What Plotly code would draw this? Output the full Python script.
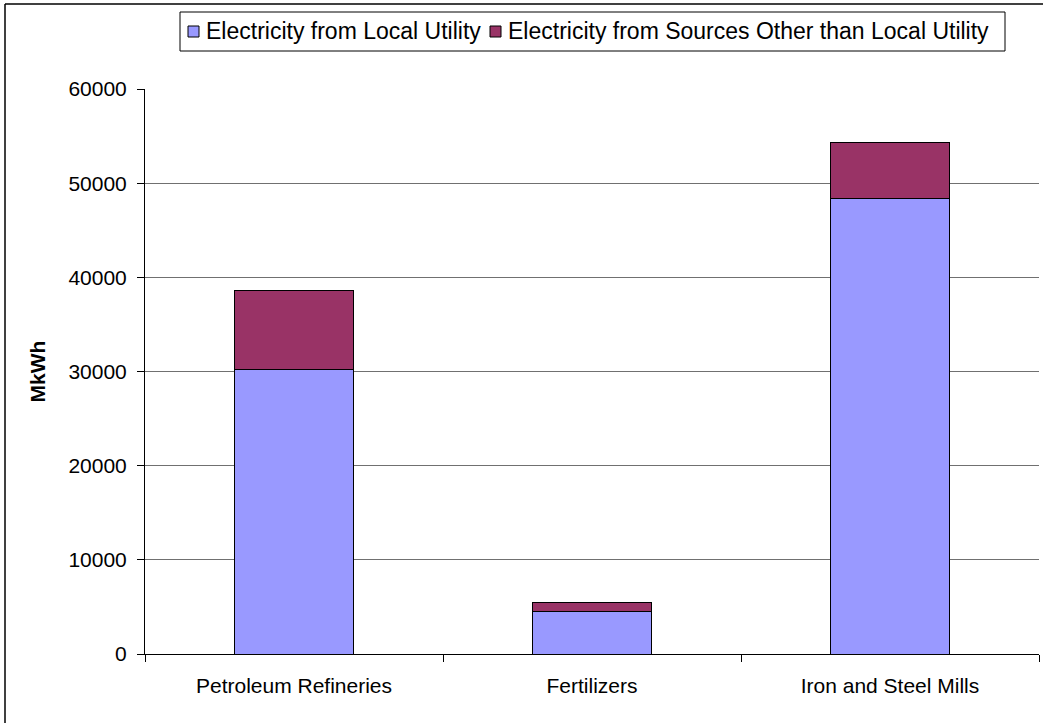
import plotly.graph_objects as go

# Electricity consumption by industry, MkWh
industries = ["Petroleum Refineries", "Fertilizers", "Iron and Steel Mills"]
local_utility = [30200, 4550, 48400]
other_sources = [8400, 900, 5900]
series_names = ["Electricity from Local Utility",
                 "Electricity from Sources Other than Local Utility"]
y_ticks = [0, 10000, 20000, 30000, 40000, 50000, 60000]

W, H = 1043, 723
ML, MR, MT, MB = 145, 4, 89, 69
PW, PH = W - ML - MR, H - MT - MB
FONT = "Liberation Sans, Arial, sans-serif"
COLORS = ["#9999FF", "#993366"]


def px(x):
    return (x - ML) / PW


def py(y):
    return (H - MB - y) / PH


fig = go.Figure()
for name, vals, col in zip(series_names, [local_utility, other_sources], COLORS):
    fig.add_trace(go.Bar(
        x=industries, y=vals, name=name, width=0.4,
        marker=dict(color=col, line=dict(color="black", width=1)),
        showlegend=False,
    ))

shapes = [
    # chart outline
    dict(type="line", xref="paper", yref="paper",
         x0=px(5), x1=px(W + 5), y0=py(4), y1=py(4),
         line=dict(color="black", width=1.5)),
    dict(type="line", xref="paper", yref="paper",
         x0=px(5), x1=px(5), y0=py(4), y1=py(H + 5),
         line=dict(color="black", width=1.5)),
    # legend frame
    dict(type="rect", xref="paper", yref="paper",
         x0=px(180), x1=px(1005), y0=py(12), y1=py(51),
         line=dict(color="black", width=1), fillcolor="white"),
]
annotations = []
legend_items = [(188, series_names[0]), (490, series_names[1])]
for (sx, name), col in zip(legend_items, COLORS):
    shapes.append(dict(type="rect", xref="paper", yref="paper",
                       x0=px(sx), x1=px(sx + 11), y0=py(26), y1=py(37),
                       line=dict(color="black", width=1), fillcolor=col))
    annotations.append(dict(xref="paper", yref="paper", x=px(sx + 16), y=py(31),
                            xanchor="left", yanchor="middle", showarrow=False,
                            text=name, font=dict(family=FONT, size=23, color="black")))

annotations.append(dict(xref="paper", yref="paper", x=px(37), y=0.5,
                        xanchor="center", yanchor="middle", showarrow=False,
                        textangle=-90, text="<b>MkWh</b>",
                        font=dict(family=FONT, size=21, color="black")))

fig.update_layout(
    width=W, height=H,
    margin=dict(l=ML, r=MR, t=MT, b=MB),
    paper_bgcolor="white", plot_bgcolor="white",
    barmode="stack",
    font=dict(family=FONT, size=21, color="black"),
    shapes=shapes, annotations=annotations,
    showlegend=False,
)
fig.update_xaxes(
    showline=True, linecolor="black", linewidth=1,
    ticks="outside", tickson="boundaries", ticklen=7, tickcolor="black",
    ticklabelstandoff=13,
    showgrid=False, tickfont=dict(family=FONT, size=21),
)
fig.update_yaxes(
    range=[0, 60000], tickvals=y_ticks, tickformat="d",
    showline=True, linecolor="black", linewidth=1,
    ticks="outside", ticklen=7, tickcolor="black", ticklabelstandoff=6,
    showgrid=True, gridcolor="#707070", gridwidth=1,
    zeroline=False, tickfont=dict(family=FONT, size=21),
)

fig.write_html("out.html")
